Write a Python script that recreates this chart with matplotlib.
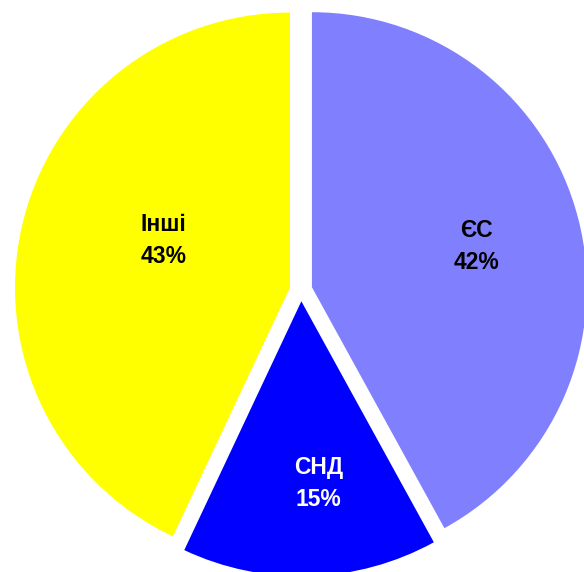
import numpy as np
import matplotlib
matplotlib.use("Agg")
import matplotlib.pyplot as plt

categories = ["ЄС", "СНД", "Інші"]
values = [42, 15, 43]
colors = ["#8080FF", "#0000FF", "#FFFF00"]
text_colors = ["black", "white", "black"]

# label placement (fraction of radius, angle tweak in degrees)
label_r = [0.615, 0.665, 0.49]
label_dang = [-0.4, 3.5, -7.9]

fig = plt.figure(figsize=(5.84, 5.72), dpi=100)
ax = fig.add_axes([0, 0, 1, 1])
R = 275.0
wedges, _ = ax.pie(values, colors=colors, startangle=90, counterclock=False,
                   explode=[0.041] * 3, radius=1.0,
                   wedgeprops=dict(linewidth=0, antialiased=True))
ax.set_aspect("auto")
ax.set_xlim(-301 / R, (584 - 301) / R)
ax.set_ylim(-(572 - 290) / R, 290 / R)
ax.axis("off")

total = sum(values)
for w, cat, v, tc, lr, da in zip(wedges, categories, values, text_colors, label_r, label_dang):
    mid = np.deg2rad((w.theta1 + w.theta2) / 2 + da)
    cx, cy = w.center
    x = cx + lr * np.cos(mid)
    y = cy + lr * np.sin(mid)
    ax.text(x, y, f"{cat}\n{round(100 * v / total)}%", ha="center", va="center",
            color=tc, fontsize=16.5, fontweight="bold", linespacing=1.5,
            family=["Liberation Sans", "DejaVu Sans"])

fig.savefig("out.png", dpi=100)
